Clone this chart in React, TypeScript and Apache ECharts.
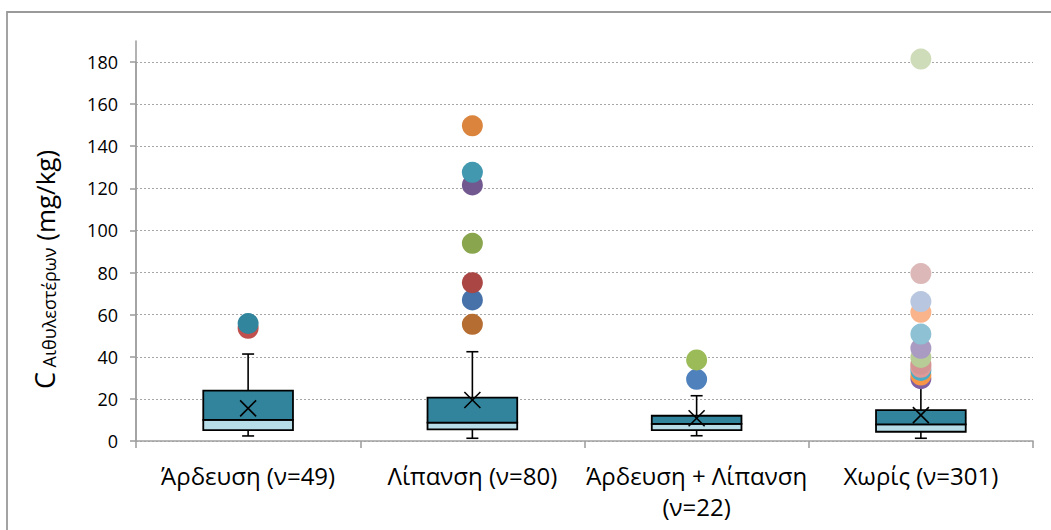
import React, { useEffect, useRef } from "react";
import * as echarts from "echarts";

// Categories (sample groups)
const categories = [
  "Άρδευση (ν=49)",
  "Λίπανση (ν=80)",
  "Άρδευση + Λίπανση\n(ν=22)",
  "Χωρίς (ν=301)",
];

// Box-plot statistics per group (mg/kg)
const whiskerLow = [2.4, 1.3, 2.5, 1.3];
const quartile1 = [5.2, 5.5, 5.2, 4.4];
const medians = [10.0, 8.7, 8.1, 7.9];
const quartile3 = [23.9, 20.6, 12.0, 14.7];
const whiskerHigh = [41.3, 42.4, 21.5, 28.0];
const means = [15.5, 19.5, 10.8, 12.3];

// Outliers per group, with the colour of each point
const outliersArdeusi = [53.5, 55.8];
const colorsArdeusi = ["#c0504d", "#31859c"];

const outliersLipansi = [55.4, 67.0, 75.2, 93.9, 121.6, 127.6, 149.7];
const colorsLipansi = ["#b66d31", "#4672a9", "#aa4644", "#89a54e", "#71588f", "#4198af", "#db843d"];

const outliersBoth = [29.3, 38.5];
const colorsBoth = ["#4f81bd", "#9bbb59"];

const outliersNone = [29.6, 31.3, 33.5, 35.0, 36.5, 39.7, 44.0, 50.8, 61.1, 66.2, 79.5, 181.4];
const colorsNone = [
  "#7f60a5", "#f79646", "#4bacc6", "#e09b99", "#d49494", "#b7cc96",
  "#a99bc2", "#8dc1d3", "#f9b48b", "#b8c7df", "#dcb9b8", "#cfdcb9",
];

// Y axis ticks
const yMin = 0;
const yMax = 180;
const yStep = 20;
const yAxisTop = 190;

const FONT = "'Open Sans', 'Noto Sans', sans-serif";

export default function App() {
  const ref = useRef<HTMLDivElement>(null);

  useEffect(() => {
    if (!ref.current) return;
    const chart = echarts.init(ref.current, undefined, { renderer: "svg" });

    const boxData = categories.map((_, i) => [
      i,
      whiskerLow[i],
      quartile1[i],
      medians[i],
      quartile3[i],
      whiskerHigh[i],
      means[i],
    ]);

    const groups = [
      [outliersArdeusi, colorsArdeusi],
      [outliersLipansi, colorsLipansi],
      [outliersBoth, colorsBoth],
      [outliersNone, colorsNone],
    ] as [number[], string[]][];

    const outlierData: any[] = [];
    groups.forEach(([vals, cols], i) => {
      vals.forEach((v, j) => {
        outlierData.push({ value: [i, v], itemStyle: { color: cols[j], opacity: 1 } });
      });
    });

    const renderBox = (params: any, api: any) => {
      const idx = api.value(0);
      const lo = api.coord([idx, api.value(1)]);
      const q1 = api.coord([idx, api.value(2)]);
      const med = api.coord([idx, api.value(3)]);
      const q3 = api.coord([idx, api.value(4)]);
      const hi = api.coord([idx, api.value(5)]);
      const mean = api.coord([idx, api.value(6)]);
      const band = api.size([1, 0])[0];
      const half = band * 0.2;
      const cap = 6;
      const cx = med[0];
      const xs = 8;
      const stroke = { stroke: "#000", lineWidth: 1.6 };
      return {
        type: "group",
        children: [
          { type: "line", shape: { x1: cx, y1: q3[1], x2: cx, y2: hi[1] }, style: stroke },
          { type: "line", shape: { x1: cx - cap, y1: hi[1], x2: cx + cap, y2: hi[1] }, style: stroke },
          { type: "line", shape: { x1: cx, y1: q1[1], x2: cx, y2: lo[1] }, style: stroke },
          { type: "line", shape: { x1: cx - cap, y1: lo[1], x2: cx + cap, y2: lo[1] }, style: stroke },
          {
            type: "rect",
            shape: { x: cx - half, y: med[1], width: half * 2, height: q1[1] - med[1] },
            style: { fill: "#b7dde8", stroke: "#000", lineWidth: 1.8 },
          },
          {
            type: "rect",
            shape: { x: cx - half, y: q3[1], width: half * 2, height: med[1] - q3[1] },
            style: { fill: "#31849b", stroke: "#000", lineWidth: 1.8 },
          },
          { type: "line", shape: { x1: cx - xs, y1: mean[1] - xs, x2: cx + xs, y2: mean[1] + xs }, style: stroke },
          { type: "line", shape: { x1: cx - xs, y1: mean[1] + xs, x2: cx + xs, y2: mean[1] - xs }, style: stroke },
        ],
      };
    };

    const gridPos = { left: 136, right: 18, bottom: 89, outerBoundsMode: "none", containLabel: false };
    const axisGrey = "#a0a0a0";

    chart.setOption({
      animation: false,
      backgroundColor: "#fff",
      grid: [
        { ...gridPos, top: 62 },
        { ...gridPos, top: 41 },
      ],
      graphic: [
        {
          type: "rect",
          shape: { x: 7, y: 12, width: 1200, height: 700 },
          style: { fill: "none", stroke: "#9a9a9a", lineWidth: 1.8 },
          silent: true,
        },
      ],
      xAxis: [
        {
          type: "category",
          gridIndex: 0,
          data: categories,
          boundaryGap: true,
          axisLine: { show: true, lineStyle: { color: axisGrey, width: 1.6 } },
          axisTick: { show: true, length: 7, lineStyle: { color: axisGrey, width: 1.6 } },
          axisLabel: {
            color: "#000",
            fontFamily: FONT,
            fontSize: 24,
            lineHeight: 31,
            margin: 19,
            interval: 0,
          },
          splitLine: { show: false },
        },
        { type: "category", gridIndex: 1, data: categories, show: false },
      ],
      yAxis: [
        {
          type: "value",
          gridIndex: 0,
          min: yMin,
          max: yMax,
          interval: yStep,
          axisLine: { show: true, lineStyle: { color: axisGrey, width: 1.6 } },
          axisTick: { show: true, length: 6, lineStyle: { color: axisGrey, width: 1.6 } },
          axisLabel: { color: "#000", fontFamily: FONT, fontSize: 18, margin: 18 },
          splitLine: { show: true, lineStyle: { color: "#a6a6a6", width: 1.2, type: [2, 2] } },
          name: "{c|C}{s| Αιθυλεστέρων}{u| (mg/kg)}",
          nameLocation: "middle",
          nameRotate: 90,
          nameGap: 78,
          nameTextStyle: {
            color: "#000",
            fontFamily: FONT,
            padding: [0, 36, 0, 0],
            rich: {
              c: { fontFamily: FONT, fontSize: 27, color: "#000" },
              s: { fontFamily: FONT, fontSize: 18, color: "#000", verticalAlign: "bottom", padding: [6, 0, 0, 0] },
              u: { fontFamily: FONT, fontSize: 26, color: "#000" },
            },
          },
        },
        {
          type: "value",
          gridIndex: 1,
          min: yMin,
          max: yAxisTop,
          axisLine: { show: true, lineStyle: { color: axisGrey, width: 1.6 } },
          axisTick: { show: false },
          axisLabel: { show: false },
          splitLine: { show: false },
        },
      ],
      series: [
        {
          type: "custom",
          xAxisIndex: 0,
          yAxisIndex: 0,
          renderItem: renderBox,
          data: boxData,
          encode: { x: 0, y: [1, 2, 3, 4, 5, 6] },
          clip: false,
          z: 2,
        },
        {
          type: "scatter",
          xAxisIndex: 0,
          yAxisIndex: 0,
          symbol: "circle",
          symbolSize: 21,
          itemStyle: { opacity: 1 },
          data: outlierData,
          clip: false,
          z: 3,
        },
      ],
    });

    return () => chart.dispose();
  }, []);

  return (
    <div
      ref={ref}
      style={{ position: "absolute", left: 0, top: 0, width: 1051, height: 530, background: "#fff" }}
    />
  );
}
